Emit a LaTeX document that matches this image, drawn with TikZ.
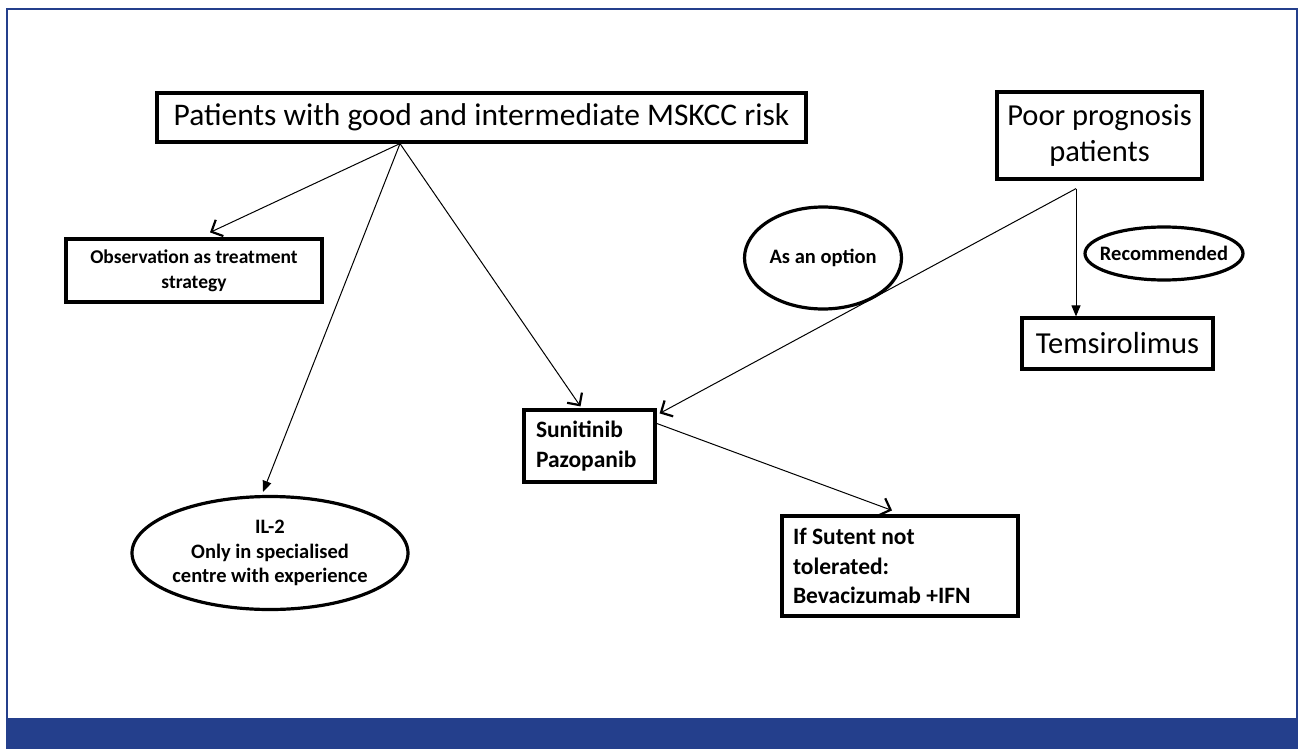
\documentclass[tikz,border=0pt]{standalone}
\usepackage{fontspec}
\setmainfont{Carlito}
\usetikzlibrary{arrows.meta,shapes.geometric,calc}
\definecolor{frameblue}{RGB}{36,63,140}
\tikzset{
  box/.style={draw=black,line width=3.2pt,rectangle,inner sep=0pt,align=center},
  oval/.style={draw=black,line width=3.2pt,ellipse,inner sep=0pt,align=center},
  big/.style={font=\fontsize{30.5}{36}\selectfont},
  small/.style={font=\fontsize{20.5}{24.5}\selectfont\bfseries},
  mid/.style={font=\fontsize{23.5}{29.5}\selectfont\bfseries},
  barb/.style={line width=1pt,-{Straight Barb[length=9pt,width=18pt,line width=2.2pt]}},
  tri/.style={line width=1pt,-{Triangle[length=11pt,width=9pt]}},
}
\begin{document}
\begin{tikzpicture}[x=1pt,y=-1pt]
\useasboundingbox (0,0) rectangle (1298,749);
% frame and bottom bar
\fill[frameblue] (6,718) rectangle (1298,749);
\draw[frameblue,line width=2pt] (7,719) -- (7,9.5) -- (1296.5,9.5) -- (1296.5,719);

% nodes
\node[box,big,font=\fontsize{31.5}{36}\selectfont,minimum width=649,minimum height=49] (top) at (481.5,117.5) {Patients with good and intermediate MSKCC risk};
\node[box,big,minimum width=205,minimum height=87] (poor) at (1099.5,135.5) {Poor prognosis\\patients};
\node[box,big,minimum width=191,minimum height=51] (tem) at (1117.5,343.5) {Temsirolimus};
\node[oval,small,minimum width=158,minimum height=53] (rec) at (1164,253.5) {\makebox[80pt]{Recommended}};
\node[oval,small,minimum width=157,minimum height=102] (opt) at (823,258) {As an option};
\node[box,small,font=\fontsize{19.5}{25}\selectfont\bfseries,minimum width=256,minimum height=63] (obs) at (194,270.5) {Observation as treatment\\strategy};
\node[oval,small,minimum width=270,minimum height=113] (il) at (270,553) {IL-2\\Only in specialised\\centre with experience};
\node[box,mid,minimum width=131,minimum height=72,inner xsep=12pt,text width=107,align=flush left] (sun) at (589.5,446) {Sunitinib\\Pazopanib};
\node[box,mid,minimum width=236,minimum height=100,inner xsep=11pt,text width=214,align=flush left] (sut) at (900,566) {If Sutent not\\tolerated:\\Bevacizumab +IFN};

% connector origins
\coordinate (s1) at ([xshift=-81.5pt]top.south);
\coordinate (p1) at ([xshift=-23.5pt,yshift=-8pt]poor.south);
\coordinate (q1) at ([yshift=-15pt]sun.north east);

% connectors
\draw[barb] (s1) -- ([xshift=16pt,yshift=5pt]obs.north);
\draw[tri] (s1) -- ([xshift=-7pt,yshift=3pt]il.north);
\draw[barb] (s1) -- ([xshift=-9pt,yshift=2pt]sun.north);
\draw[barb] (p1) -- ([xshift=3pt,yshift=-5pt]sun.north east);
\draw[tri] (p1) -- (p1 |- tem.north);
\draw[barb] (q1) -- ([xshift=-8pt,yshift=4pt]sut.north);
\end{tikzpicture}
\end{document}
